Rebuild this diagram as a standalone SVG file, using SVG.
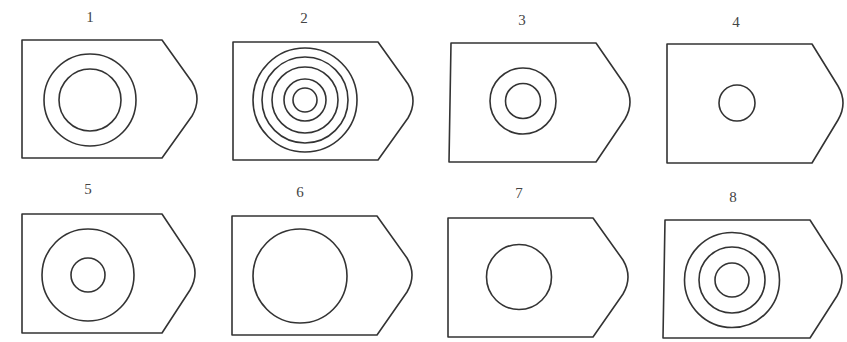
<svg xmlns="http://www.w3.org/2000/svg" width="847" height="342" viewBox="0 0 847 342">
<style>
.s{fill:none;stroke:#333;stroke-width:1.6;stroke-linejoin:round}
.c{fill:none;stroke:#333;stroke-width:1.6}
.t{font-family:"Liberation Serif",serif;font-size:15px;fill:#444;text-anchor:middle}
</style>
<rect width="847" height="342" fill="#fff"/>
<g id="node1">
<text class="t" x="90" y="22">1</text>
<path class="s" d="M22,40 H162 L192,82 Q202,99 192,116 L162,158 H22 Z"/>
<circle class="c" cx="90" cy="100" r="46"/>
<circle class="c" cx="90" cy="100" r="31"/>
</g>
<g id="node2">
<text class="t" x="304" y="23">2</text>
<path class="s" d="M233,42 H378 L408,84 Q418,101 408,118 L378,160 H233 Z"/>
<circle class="c" cx="305" cy="100" r="52"/>
<circle class="c" cx="305" cy="100" r="43"/>
<circle class="c" cx="305" cy="100" r="33"/>
<circle class="c" cx="305" cy="100" r="21"/>
<circle class="c" cx="305" cy="100" r="12"/>
</g>
<g id="node3">
<text class="t" x="522" y="25">3</text>
<path class="s" d="M451,43 H596 L625,85 Q635,102 625,119 L596,162 H449 Z"/>
<circle class="c" cx="523" cy="101" r="33"/>
<circle class="c" cx="523" cy="101" r="17.5"/>
</g>
<g id="node4">
<text class="t" x="736" y="27">4</text>
<path class="s" d="M667,44 H812 L838,86 Q848,103 838,120 L812,163 H667 Z"/>
<circle class="c" cx="737" cy="103" r="18"/>
</g>
<g id="node5">
<text class="t" x="88" y="194">5</text>
<path class="s" d="M22,214 H162 L190,256 Q200,273 190,290 L162,333 H22 Z"/>
<circle class="c" cx="88" cy="275" r="46"/>
<circle class="c" cx="88" cy="275" r="17"/>
</g>
<g id="node6">
<text class="t" x="300" y="197">6</text>
<path class="s" d="M232,216 H377 L407,258 Q417,275 407,292 L377,335 H232 Z"/>
<circle class="c" cx="300" cy="276" r="47"/>
</g>
<g id="node7">
<text class="t" x="519" y="198">7</text>
<path class="s" d="M448,218 H593 L623,260 Q633,277 623,294 L593,337 H448 Z"/>
<circle class="c" cx="519" cy="277" r="32.5"/>
</g>
<g id="node8">
<text class="t" x="733" y="202">8</text>
<path class="s" d="M665,220 H810 L837,262 Q847,279 837,296 L810,338 H663 Z"/>
<circle class="c" cx="732" cy="280" r="47.5"/>
<circle class="c" cx="732" cy="280" r="33"/>
<circle class="c" cx="732" cy="280" r="17"/>
</g>
<g id="connectors"></g>
</svg>
